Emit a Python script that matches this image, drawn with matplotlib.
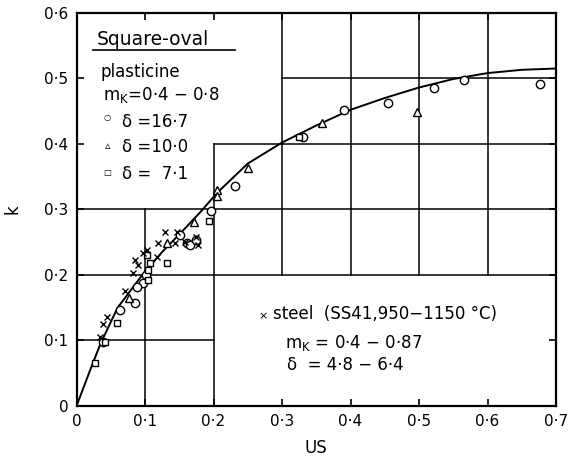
import matplotlib
matplotlib.use("Agg")
import matplotlib.pyplot as plt

plt.rcParams['font.family'] = ['DejaVu Sans']
plt.rcParams['mathtext.fontset'] = 'dejavusans'

# fitted curve k(US)
curve_us = [0, 0.02, 0.035, 0.06, 0.096, 0.125, 0.152, 0.18, 0.205, 0.25, 0.3,
            0.35, 0.4, 0.45, 0.5, 0.55, 0.6, 0.65, 0.7]
curve_k = [0, 0.055, 0.095, 0.15, 0.2, 0.235, 0.264, 0.295, 0.325, 0.37, 0.402,
           0.428, 0.452, 0.47, 0.486, 0.499, 0.508, 0.513, 0.515]

# plasticine, delta = 16.7 (circles)
circ_us = [0.33, 0.391, 0.454, 0.522, 0.565, 0.677, 0.231, 0.197, 0.151, 0.161,
           0.166, 0.175, 0.101, 0.097, 0.088, 0.085, 0.064, 0.039]
circ_k = [0.41, 0.452, 0.462, 0.486, 0.498, 0.492, 0.336, 0.297, 0.261, 0.248,
          0.246, 0.253, 0.2, 0.187, 0.182, 0.157, 0.147, 0.097]
# plasticine, delta = 10.0 (triangles)
tri_us = [0.359, 0.497, 0.251, 0.205, 0.205, 0.171, 0.132, 0.076]
tri_k = [0.432, 0.448, 0.363, 0.329, 0.32, 0.281, 0.248, 0.165]
# plasticine, delta = 7.1 (squares)
sq_us = [0.325, 0.194, 0.132, 0.103, 0.107, 0.105, 0.104, 0.059, 0.027, 0.042]
sq_k = [0.41, 0.283, 0.218, 0.23, 0.218, 0.208, 0.192, 0.126, 0.065, 0.097]
# steel (crosses)
st_us = [0.146, 0.158, 0.177, 0.175, 0.129, 0.119, 0.144, 0.103, 0.097, 0.085,
         0.09, 0.117, 0.083, 0.071, 0.044, 0.038, 0.034]
st_k = [0.266, 0.251, 0.246, 0.258, 0.266, 0.248, 0.248, 0.238, 0.233, 0.223,
        0.215, 0.228, 0.203, 0.175, 0.136, 0.125, 0.106]

xticks = [0, 0.1, 0.2, 0.3, 0.4, 0.5, 0.6, 0.7]
xlabels = ['0', '0·1', '0·2', '0·3', '0·4', '0·5', '0·6', '0·7']
yticks = [0, 0.1, 0.2, 0.3, 0.4, 0.5, 0.6]
ylabels = ['0', '0·1', '0·2', '0·3', '0·4', '0·5', '0·6']

# staircase grid segments: (level, start, end)
hgrid = [(0.1, 0.0, 0.2), (0.2, 0.0, 0.7), (0.3, 0.0, 0.7), (0.4, 0.2, 0.7), (0.5, 0.3, 0.7)]
vgrid = [(0.1, 0.0, 0.3), (0.2, 0.0, 0.4), (0.3, 0.2, 0.6), (0.4, 0.2, 0.6),
         (0.5, 0.2, 0.6), (0.6, 0.2, 0.6)]

fig = plt.figure(figsize=(5.68, 4.57), dpi=100)
ax = fig.add_axes([0.1347, 0.1116, 0.979 - 0.1347, 0.972 - 0.1116])
ax.set_xlim(0, 0.7)
ax.set_ylim(0, 0.6)

for lvl, a, b in hgrid:
    ax.plot([a, b], [lvl, lvl], color='black', lw=1.1, zorder=1)
for lvl, a, b in vgrid:
    ax.plot([lvl, lvl], [a, b], color='black', lw=1.1, zorder=1)

ax.plot(curve_us, curve_k, color='black', lw=1.4, zorder=2)

mk = dict(linestyle='none', color='black', markerfacecolor='white', markeredgewidth=1.0, zorder=3)
ax.plot(circ_us, circ_k, marker='o', markersize=6, **mk)
ax.plot(tri_us, tri_k, marker='^', markersize=6, **mk)
ax.plot(sq_us, sq_k, marker='s', markersize=5, **mk)
ax.plot(st_us, st_k, marker='x', markersize=5, linestyle='none', color='black',
        markeredgewidth=1.0, zorder=4)

ax.set_xticks(xticks)
ax.set_xticklabels(xlabels)
ax.set_yticks(yticks)
ax.set_yticklabels(ylabels)
ax.tick_params(direction='in', length=5, width=1.2, labelsize=11,
               top=True, right=True, pad=6)
for s in ax.spines.values():
    s.set_linewidth(1.6)

ax.set_xlabel('US', fontsize=12, labelpad=7)
ax.set_ylabel('k', fontsize=12, labelpad=16)

fs = 12
ax.text(0.030, 0.551, 'Square-oval', fontsize=13.5, va='baseline')
ax.plot([0.024, 0.231], [0.543, 0.543], color='black', lw=1.2)
ax.text(0.035, 0.502, 'plasticine', fontsize=fs, va='baseline')
ax.text(0.039, 0.467, r'm$_{\mathrm{K}}$=0·4 − 0·8', fontsize=fs, va='baseline')
ax.text(0.045, 0.44, '○', fontsize=6, ha='center', va='center')
ax.text(0.066, 0.426, 'δ =16·7', fontsize=fs, va='baseline')
ax.text(0.045, 0.396, '▵', fontsize=8, ha='center', va='center')
ax.text(0.066, 0.387, 'δ =10·0', fontsize=fs, va='baseline')
ax.text(0.045, 0.357, '□', fontsize=6, ha='center', va='center')
ax.text(0.066, 0.346, 'δ =  7·1', fontsize=fs, va='baseline')

ax.text(0.272, 0.137, '×', fontsize=8, ha='center', va='center')
ax.text(0.287, 0.132, 'steel  (SS41,950−1150 °C)', fontsize=fs, va='baseline')
ax.text(0.304, 0.088, r'm$_{\mathrm{K}}$ = 0·4 − 0·87', fontsize=fs, va='baseline')
ax.text(0.307, 0.055, 'δ  = 4·8 − 6·4', fontsize=fs, va='baseline')

fig.savefig('out.png', dpi=100)
